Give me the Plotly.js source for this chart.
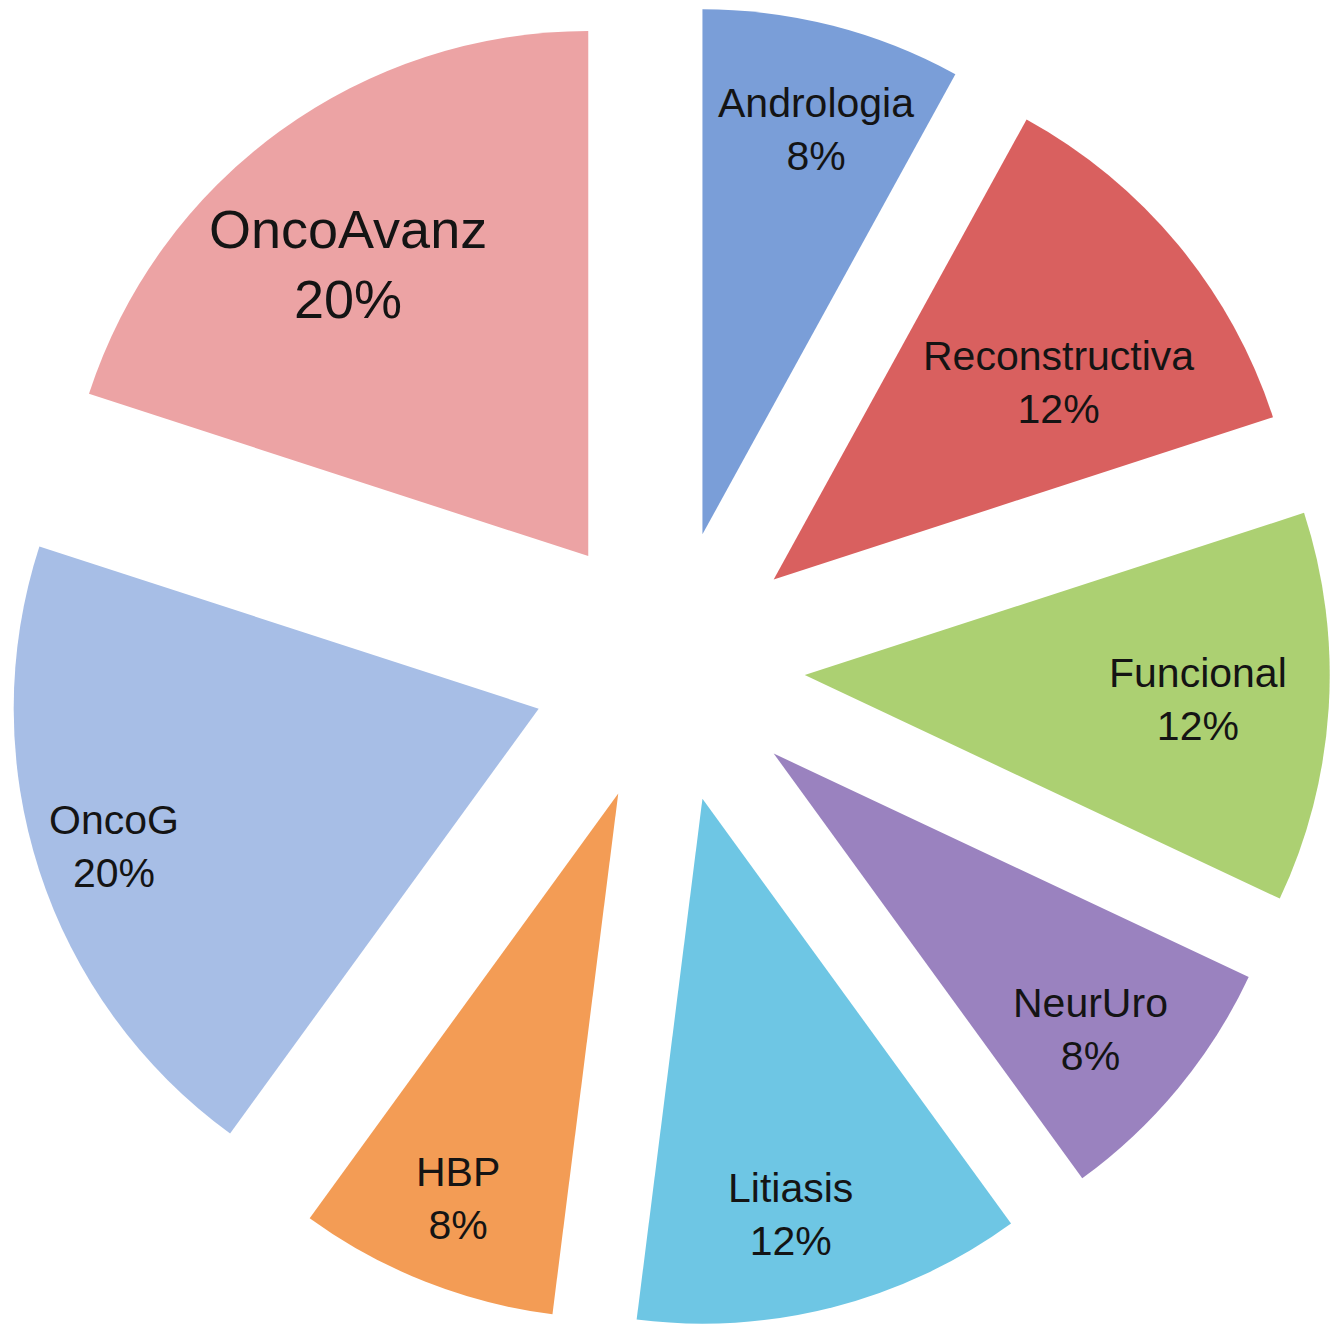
<!DOCTYPE html>
<html>
<head>
<meta charset="utf-8">
<script src="https://cdn.plot.ly/plotly-3.0.1.min.js"></script>
<style>html,body{margin:0;padding:0;background:#fff;}#chart{width:1341px;height:1341px;}</style>
</head>
<body>
<div id="chart"></div>
<script>
const labels = ["Andrologia", "Reconstructiva", "Funcional", "NeurUro", "Litiasis", "HBP", "OncoG", "OncoAvanz"];
const values = [8, 12, 12, 8, 12, 8, 20, 20];
const colors = ["#7a9ed8", "#d9605f", "#acd072", "#9a82bf", "#6ec6e4", "#f39c55", "#a7bee6", "#eca3a4"];
const fontSizes = [41, 41, 41, 41, 41, 41, 41, 54];
// label distance from slice tip (fraction of pie radius) and angular shift off the bisector (deg)
const labelRadius = [0.80, 0.66, 0.75, 0.80, 0.81, 0.83, 0.85, 0.72];
const labelShift = [1.3, 5, 0, 1.5, 2.5, 0, 0, -3.4];
const pullFrac = 0.26;

const W = 1341, H = 1341;
const margin = {l: 7, r: 11, t: 5, b: 13};
const plotW = W - margin.l - margin.r, plotH = H - margin.t - margin.b;
const R = Math.min(plotW, plotH) / 2 / (1 + pullFrac);
const total = values.reduce((a, b) => a + b, 0);

let cum = 0;
const annotations = labels.map((lab, i) => {
  const mid = (cum + values[i] / 2) / total * 2 * Math.PI;
  cum += values[i];
  const ang = mid + labelShift[i] * Math.PI / 180;
  const tipX = Math.sin(mid) * R * pullFrac, tipY = Math.cos(mid) * R * pullFrac;
  const dx = tipX + Math.sin(ang) * R * labelRadius[i];
  const dy = tipY + Math.cos(ang) * R * labelRadius[i];
  const pct = Math.round(values[i] / total * 100) + "%";
  return {
    xref: "paper", yref: "paper",
    x: 0.5 + dx / plotW, y: 0.5 + dy / plotH,
    xanchor: "center", yanchor: "middle",
    text: lab + "<br>" + pct,
    showarrow: false,
    font: {family: "Liberation Sans, Arial, sans-serif", size: fontSizes[i], color: "#141414"}
  };
});

Plotly.newPlot("chart", [{
  type: "pie",
  labels: labels,
  values: values,
  sort: false,
  direction: "clockwise",
  rotation: 0,
  pull: labels.map(() => pullFrac),
  marker: {colors: colors, line: {width: 0}},
  textinfo: "none",
  hoverinfo: "none"
}], {
  width: W, height: H,
  margin: margin,
  showlegend: false,
  paper_bgcolor: "#ffffff",
  annotations: annotations
}, {displayModeBar: false, staticPlot: true});
</script>
</body>
</html>
